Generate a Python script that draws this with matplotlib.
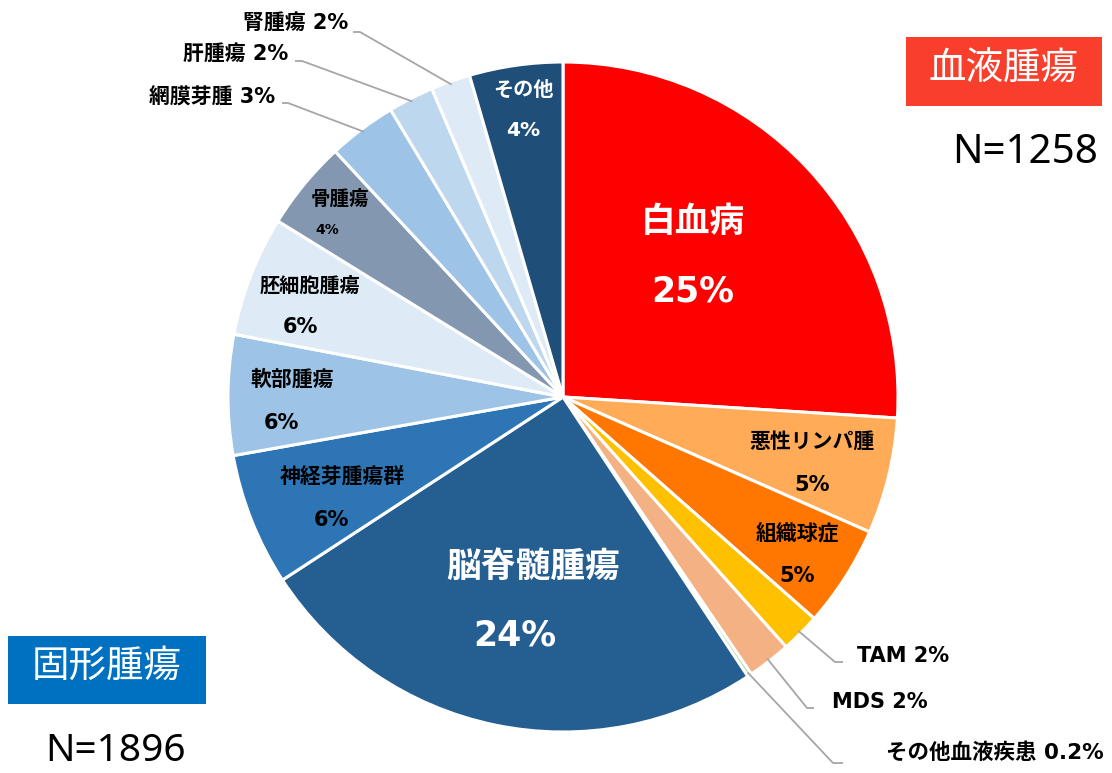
import numpy as np
import matplotlib.pyplot as plt
from matplotlib.patches import Rectangle

# slices, clockwise from the top
names = ['白血病', '悪性リンパ腫', '組織球症', 'TAM', 'MDS', 'その他血液疾患',
         '脳脊髄腫瘍', '神経芽腫瘍群', '軟部腫瘍', '胚細胞腫瘍', '骨腫瘍',
         '網膜芽腫', '肝腫瘍', '腎腫瘍', 'その他']
shares = [26.0, 5.6, 4.9, 1.9, 2.1, 0.2, 25.1, 6.4, 5.8, 5.8, 4.3, 3.3, 2.2, 1.9, 4.5]
pct_labels = ['25%', '5%', '5%', '2%', '2%', '0.2%', '24%', '6%', '6%', '6%',
              '4%', '3%', '2%', '2%', '4%']
colors = ['#FF0000', '#FFAB57', '#FF7700', '#FFC000', '#F4B183', '#A9D18E',
          '#255E91', '#2E75B6', '#9DC3E6', '#DEEBF7', '#8497B0',
          '#9DC3E6', '#BDD7EE', '#DEEBF7', '#1F4E79']
groups = ['血液腫瘍', '固形腫瘍']
group_n = [1258, 1896]

W, H = 1112, 773
FAM = ['DejaVu Sans', 'Noto Sans CJK JP']
cx, cy, R = 563, 397, 335


def Y(y):
    return H - y


fig = plt.figure(figsize=(W / 100, H / 100), dpi=100)
ax = fig.add_axes([0, 0, 1, 1])

wedges, _ = ax.pie(shares, colors=colors, startangle=90, counterclock=False,
                   center=(cx, Y(cy)), radius=R,
                   wedgeprops=dict(edgecolor='white', linewidth=2.2))
ax.set_xlim(0, W)
ax.set_ylim(0, H)
ax.set_aspect('equal')
ax.axis('off')


def edge_point(i, r=1.0):
    w = wedges[i]
    th = np.deg2rad((w.theta1 + w.theta2) / 2)
    return cx + r * R * np.cos(th), Y(cy) + r * R * np.sin(th)


# labels inside the slices: (index, name xy, pct xy, size, colour, pct size)
inside = [
    (0, (693, 222), (693, 292), 25, 'white', 25),
    (6, (533, 567), (515, 636), 25, 'white', 25),
    (1, (812, 442), (812, 485), 15, 'black', 15),
    (2, (797, 533), (797, 576), 15, 'black', 15),
    (14, (523, 90), (523, 130), 14.5, 'white', 14.5),
    (10, (340, 199), (327, 230), 14, 'black', 10),
    (9, (310, 286), (300, 327), 14.5, 'black', 15),
    (8, (292, 380), (281, 423), 15, 'black', 15),
    (7, (342, 477), (331, 520), 15, 'black', 15),
]
for i, p1, p2, fs, c, fs2 in inside:
    ax.text(p1[0], Y(p1[1]), names[i], ha='center', va='center', fontsize=fs,
            color=c, fontweight='bold', family=FAM)
    ax.text(p2[0], Y(p2[1]), pct_labels[i], ha='center', va='center', fontsize=fs2,
            color=c, fontweight='bold', family=FAM)

# labels outside with leader lines: (index, elbow, end, text xy, align)
outside = [
    (3, (835, 662), (843, 662), (857, 656), 'left'),
    (4, (807, 708), (814, 708), (832, 702), 'left'),
    (5, (833, 763), (843, 763), (886, 753), 'left'),
    (11, (288, 103), (282, 103), (275, 97), 'right'),
    (12, (302, 61), (295, 61), (288, 54), 'right'),
    (13, (360, 32), (353, 32), (348, 23), 'right'),
]
for i, elbow, end, txy, al in outside:
    sx, sy = edge_point(i, 0.99)
    ax.plot([sx, elbow[0], end[0]], [sy, Y(elbow[1]), Y(end[1])],
            color='#A6A6A6', lw=1.3, solid_capstyle='butt')
    fs = 15.5 if i == 5 else 15
    ax.text(txy[0], Y(txy[1]), names[i] + ' ' + pct_labels[i], ha=al, va='center',
            fontsize=fs, fontweight='bold', color='black', family=FAM)

# group badges
ax.add_patch(Rectangle((906, Y(106)), 196, 69, facecolor='#F93E2C', edgecolor='none'))
ax.text(1004, Y(68), groups[0], ha='center', va='center', fontsize=27,
        color='white', family='Noto Sans CJK JP')
ax.text(1098, Y(153), f'N={group_n[0]}', ha='right', va='center', fontsize=29,
        color='black', family='Noto Sans')

ax.add_patch(Rectangle((8, Y(704)), 198, 68, facecolor='#0070C0', edgecolor='none'))
ax.text(107, Y(666), groups[1], ha='center', va='center', fontsize=27,
        color='white', family='Noto Sans CJK JP')
ax.text(45, Y(751), f'N={group_n[1]}', ha='left', va='center', fontsize=28,
        color='black', family='Noto Sans')

plt.savefig('out.png', dpi=100)
